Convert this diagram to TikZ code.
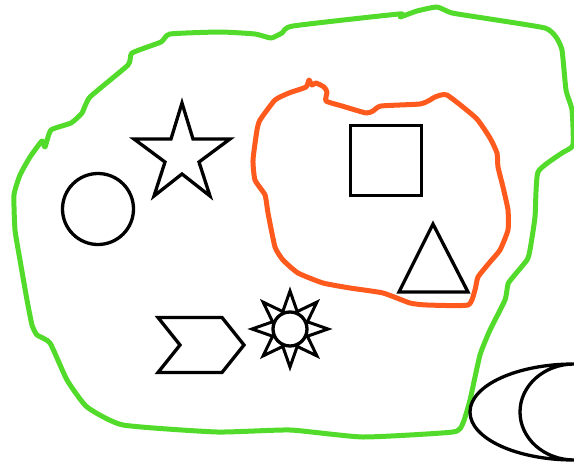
\documentclass[tikz,border=0pt]{standalone}
\usepackage{tikz}
\definecolor{outerblob}{RGB}{82,219,42}
\definecolor{innerblob}{RGB}{255,90,30}
\tikzset{
  blob/.style={line width=5,line join=round,line cap=round},
  figure/.style={draw=black,line width=3.3,line join=miter}
}

\begin{document}
\begin{tikzpicture}[x=1pt,y=-1pt]
  \useasboundingbox (0,0) rectangle (574,469);
  \draw[blob,outerblob] plot[smooth cycle,tension=0.3] coordinates {
    (14,195) (20,175) (30,157) (42,141) (45,147) (51,130) (71,123) (82,113)
    (90,97) (128,65) (132,53) (161,42) (170,34) (220,32) (255,34) (271,38)
    (282,33) (293,26) (399,14) (400,17) (417,11) (437,7) (452,13) (490,19)
    (545,28) (556,37) (562,50) (566,90) (572,110) (573,145) (562,153)
    (538,172) (535,217) (530,250) (527,260) (513,277) (508,284) (505,300)
    (490,330) (480,355) (470,400) (463,423) (453,432) (363,437) (290,430)
    (217,432) (123,425) (87,407) (67,380) (50,343) (37,335) (32,325)
    (27,300) (20,260) (15,230)};
  \draw[blob,innerblob] plot[smooth cycle,tension=0.3] coordinates {
    (289,93) (306,87) (309,80) (312,85) (316,83) (324,87) (327,92) (326,101)
    (342,106) (366,113) (373,111) (381,106) (420,104) (430,100) (435,97)
    (447,95) (476,118) (490,138) (497,153) (498,167) (503,187) (508,210)
    (508,230) (500,250) (490,262) (478,277) (475,290) (468,305) (427,305)
    (410,303) (383,293) (350,288) (323,283) (298,273) (283,260) (275,247)
    (268,213) (265,195) (255,180) (253,160) (257,130) (260,120) (275,100)};
  \draw[figure] (98,209) circle[radius=35.5];
  \draw[figure] (182,103) -- (193,139) -- (230,139) -- (199,162) -- (210,196)
    -- (182,174) -- (154,196) -- (165,162) -- (134,139) -- (171,139) -- cycle;
  \draw[figure] (350.5,125.5) rectangle (421.5,195.5);
  \draw[figure] (433,224) -- (468,292) -- (399,292) -- cycle;
  \draw[figure] (158,317.5) -- (222,317.5) -- (244,345) -- (222,372.5)
    -- (158,372.5) -- (180,345) -- cycle;
  \coordinate (sun) at (290,329);
  \foreach \a in {0,45,...,315}
    \filldraw[figure,fill=white,line width=3,shift={(sun)}]
      (\a+25:18) -- (\a:38) -- (\a-25:18) -- cycle;
  \filldraw[figure,fill=white] (sun) circle[radius=17];
  \draw[figure] (574,364) .. controls (516.6,364) and (470,385.5) .. (470,412)
    .. controls (470,438.5) and (516.6,460) .. (574,460)
    .. controls (544.2,460) and (520,438.5) .. (520,412)
    .. controls (520,385.5) and (544.2,364) .. (574,364) -- cycle;
\end{tikzpicture}
\end{document}
